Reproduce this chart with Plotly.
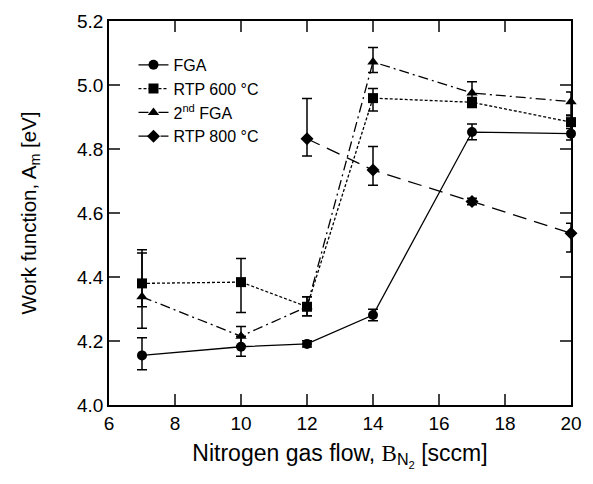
import plotly.graph_objects as go

x_flow = [7, 10, 12, 14, 17, 20]

fga = [4.155, 4.182, 4.191, 4.281, 4.853, 4.848]
fga_err_p = [0.055, 0.033, 0.01, 0.018, 0.025, 0.03]
fga_err_m = [0.045, 0.03, 0.01, 0.018, 0.024, 0.02]

rtp600 = [4.380, 4.384, 4.307, 4.959, 4.946, 4.884]
rtp600_err_p = [0.105, 0.074, 0.031, 0.03, 0.015, 0.02]
rtp600_err_m = [0.14, 0.095, 0.028, 0.04, 0.016, 0.02]

x_fga2 = [7, 10, 12, 14, 17, 20]
fga2 = [4.338, 4.215, 4.307, 5.072, 4.975, 4.948]
fga2_err_p = [0.137, 0.03, 0.031, 0.045, 0.035, 0.03]
fga2_err_m = [0.031, 0.03, 0.028, 0.033, 0.03, 0.042]

x_rtp800 = [12, 14, 17, 20]
rtp800 = [4.832, 4.734, 4.636, 4.537]
rtp800_err_p = [0.126, 0.074, 0.01, 0.031]
rtp800_err_m = [0.054, 0.047, 0.01, 0.059]

names = ["FGA", "RTP 600 °C", "2<sup>nd</sup> FGA", "RTP 800 °C"]

series = [
    (x_flow, fga, fga_err_p, fga_err_m, "circle", "solid", names[0]),
    (x_flow, rtp600, rtp600_err_p, rtp600_err_m, "square", "3px,2px", names[1]),
    (x_fga2, fga2, fga2_err_p, fga2_err_m, "triangle-up", "10px,4px,2px,4px", names[2]),
    (x_rtp800, rtp800, rtp800_err_p, rtp800_err_m, "diamond", "14px,8px", names[3]),
]

fig = go.Figure()
for xs, ys, ep, em, sym, dash, nm in series:
    fig.add_trace(go.Scatter(
        x=xs, y=ys, name=nm, mode="lines+markers", cliponaxis=False,
        line=dict(color="black", width=1.3, dash=dash),
        marker=dict(symbol=sym, size=10, color="black"),
        error_y=dict(type="data", array=ep, arrayminus=em, symmetric=False,
                     color="black", thickness=1.5, width=5),
    ))

font_fam = "Liberation Sans, Arial, Helvetica, sans-serif"
fig.update_layout(
    width=593, height=484,
    margin=dict(l=109, r=11, t=19, b=79),
    plot_bgcolor="white", paper_bgcolor="white",
    font=dict(family=font_fam, size=19, color="black"),
    showlegend=True,
    legend=dict(x=0.053, y=0.93, xanchor="left", yanchor="top",
                bgcolor="rgba(0,0,0,0)", font=dict(size=16),
                tracegroupgap=0, itemwidth=30),
    xaxis=dict(range=[6, 20], tickvals=[6, 8, 10, 12, 14, 16, 18, 20],
               ticks="inside", ticklen=11, tickwidth=1.5, mirror="ticks",
               showline=True, linecolor="black", linewidth=1.5,
               showgrid=False, zeroline=False,
               title=dict(text='Nitrogen gas flow, <span style="font-family:Liberation Serif, Times New Roman, serif">B</span><sub>N<sub>2</sub></sub> [sccm]',
                          standoff=12)),
    yaxis=dict(range=[4.0, 5.2], tickvals=[4.0, 4.2, 4.4, 4.6, 4.8, 5.0, 5.2],
               tickformat=".1f",
               ticks="inside", ticklen=11, tickwidth=1.5, mirror="ticks",
               showline=True, linecolor="black", linewidth=1.5,
               showgrid=False, zeroline=False,
               title=dict(text="Work function, A<sub>m</sub> [eV]", standoff=35,
                          font=dict(size=20.5))),
)

fig.write_html("out.html")
